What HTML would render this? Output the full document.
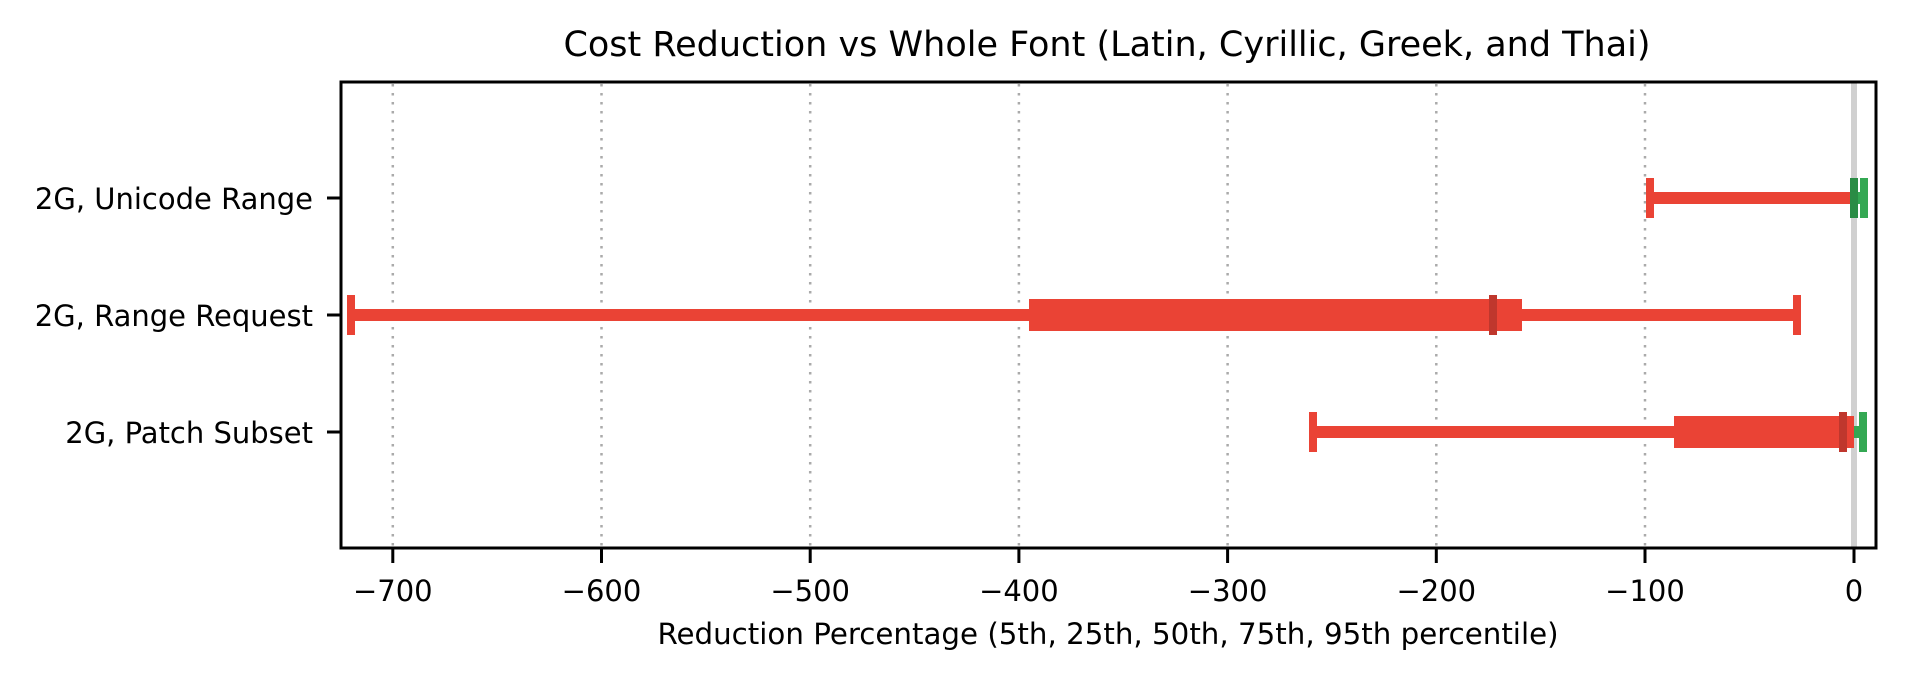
<!DOCTYPE html>
<html><head><meta charset="utf-8"><style>
html,body{margin:0;padding:0;background:#fff;}
svg{display:block;font-family:"DejaVu Sans","Liberation Sans",sans-serif;}
</style></head><body>
<svg width="1908" height="680" viewBox="0 0 1908 680" xmlns="http://www.w3.org/2000/svg">
<rect width="1908" height="680" fill="#fff"/>
<text x="1107" y="56" font-size="35" text-anchor="middle" fill="#000">Cost Reduction vs Whole Font (Latin, Cyrillic, Greek, and Thai)</text>
<g stroke="#aaa" stroke-width="2.5" stroke-dasharray="2.5,6.5">
<line x1="392.8" y1="84" x2="392.8" y2="547"/>
<line x1="601.5" y1="84" x2="601.5" y2="547"/>
<line x1="810.2" y1="84" x2="810.2" y2="547"/>
<line x1="1018.9" y1="84" x2="1018.9" y2="547"/>
<line x1="1227.6" y1="84" x2="1227.6" y2="547"/>
<line x1="1436.3" y1="84" x2="1436.3" y2="547"/>
<line x1="1645" y1="84" x2="1645" y2="547"/>
</g>
<rect x="1851" y="82" width="6" height="466" fill="#d0d0d0"/>
<!-- Unicode Range -->
<rect x="1650" y="192" width="200" height="12" fill="#ea4335"/>
<rect x="1646" y="178" width="8" height="40" fill="#ea4335"/>
<rect x="1850" y="178" width="8" height="40" fill="#2a8c45"/>
<rect x="1858" y="192" width="2" height="12" fill="#34a853"/>
<rect x="1860" y="178" width="8" height="40" fill="#34a853"/>
<!-- Range Request -->
<rect x="351" y="309" width="1446" height="12" fill="#ea4335"/>
<rect x="347" y="295" width="8" height="40" fill="#ea4335"/>
<rect x="1793" y="295" width="8" height="40" fill="#ea4335"/>
<rect x="1029" y="299" width="493" height="32" fill="#ea4335"/>
<rect x="1489" y="295" width="8" height="40" fill="#bf372d"/>
<!-- Patch Subset -->
<rect x="1313" y="426" width="361" height="12" fill="#ea4335"/>
<rect x="1309" y="412" width="8" height="40" fill="#ea4335"/>
<rect x="1674" y="416" width="180" height="32" fill="#ea4335"/>
<rect x="1839" y="412" width="8" height="40" fill="#bf372d"/>
<rect x="1854" y="426" width="6" height="12" fill="#34a853"/>
<rect x="1859" y="412" width="8" height="40" fill="#34a853"/>
<!-- axes -->
<rect x="341" y="82" width="1535" height="466" fill="none" stroke="#000" stroke-width="3"/>
<g stroke="#000" stroke-width="3">
<line x1="327" y1="198" x2="341" y2="198"/>
<line x1="327" y1="315" x2="341" y2="315"/>
<line x1="327" y1="432" x2="341" y2="432"/>
<line x1="392.8" y1="548" x2="392.8" y2="563"/>
<line x1="601.5" y1="548" x2="601.5" y2="563"/>
<line x1="810.2" y1="548" x2="810.2" y2="563"/>
<line x1="1018.9" y1="548" x2="1018.9" y2="563"/>
<line x1="1227.6" y1="548" x2="1227.6" y2="563"/>
<line x1="1436.3" y1="548" x2="1436.3" y2="563"/>
<line x1="1645" y1="548" x2="1645" y2="563"/>
<line x1="1854" y1="548" x2="1854" y2="563"/>
</g>
<g font-size="29" text-anchor="end" fill="#000">
<text x="313" y="209">2G, Unicode Range</text>
<text x="313" y="326">2G, Range Request</text>
<text x="313" y="443">2G, Patch Subset</text>
</g>
<g font-size="29" text-anchor="middle" fill="#000">
<text x="392.8" y="601">−700</text>
<text x="601.5" y="601">−600</text>
<text x="810.2" y="601">−500</text>
<text x="1018.9" y="601">−400</text>
<text x="1227.6" y="601">−300</text>
<text x="1436.3" y="601">−200</text>
<text x="1645" y="601">−100</text>
<text x="1854" y="601">0</text>
<text x="1108" y="644" font-size="29.3">Reduction Percentage (5th, 25th, 50th, 75th, 95th percentile)</text>
</g>
</svg>
</body></html>
